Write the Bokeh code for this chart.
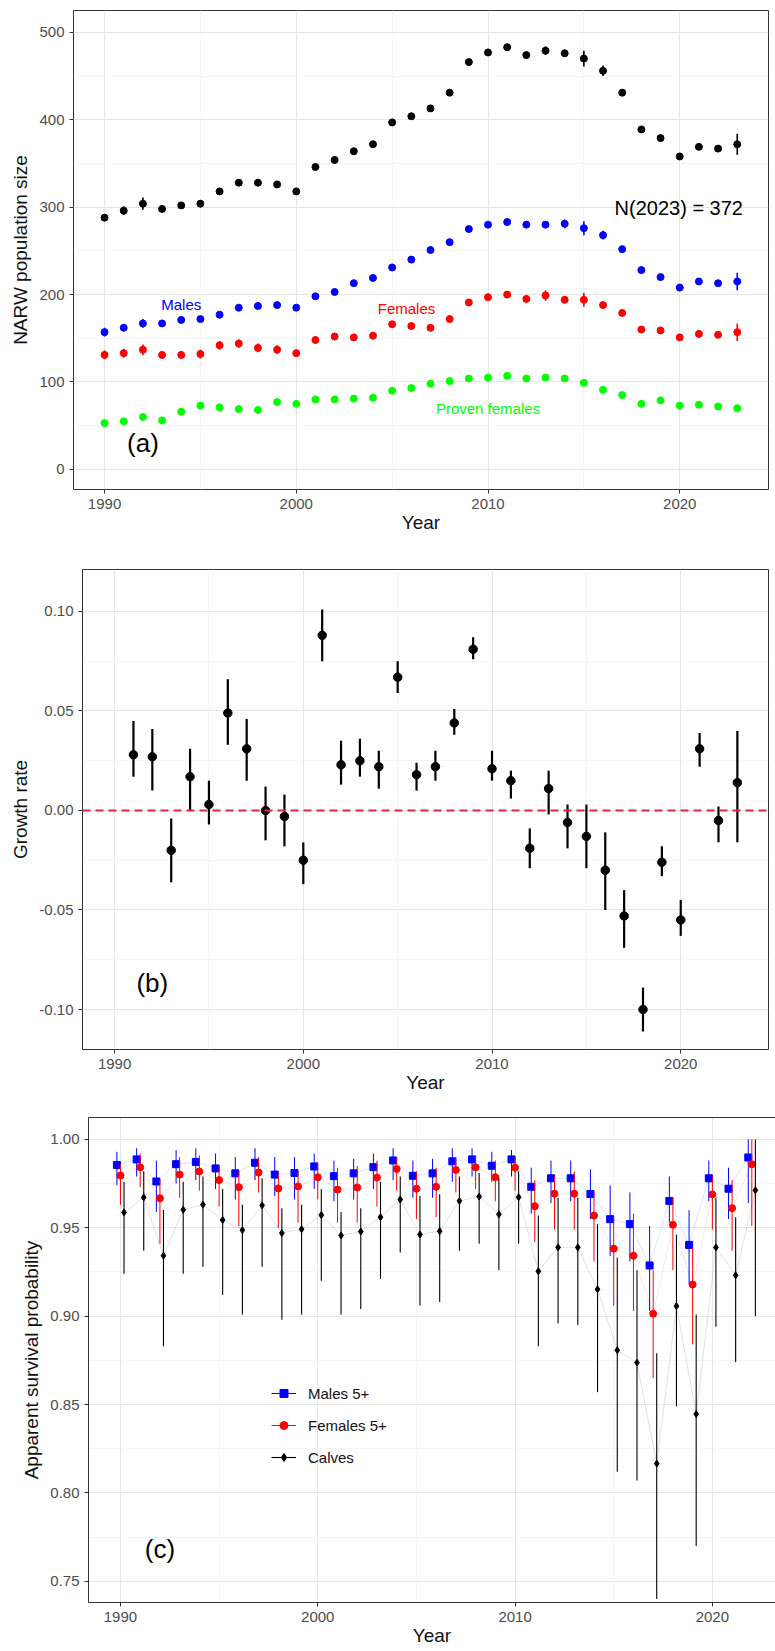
from bokeh.plotting import figure
from bokeh.models import (FixedTicker, PrintfTickFormatter, Range1d, LinearAxis,
                          Legend, LegendItem, Label, Span)
from bokeh.embed import file_html
from bokeh.resources import INLINE

FONT = "Liberation Sans"

# ---------------- Panel (a) data ----------------
years_a = list(range(1990, 2024))
total = [288, 296, 304, 298, 302, 304, 318, 328, 328, 326, 318, 346, 354, 364, 372, 397, 404,
         413, 431, 466, 477, 483, 474, 479, 476, 470, 456, 431, 389, 379, 358, 369, 367, 372]
total_hw = [3, 5, 7, 4, 4, 4, 3, 3, 3, 3, 3, 3, 3, 3, 3, 3, 3, 3, 3, 3, 3, 3, 3, 5, 4, 9, 6,
            3, 3, 3, 3, 3, 3, 12]
males = [157, 162, 167, 167, 171, 172, 177, 185, 187, 188, 185, 198, 203, 213, 219, 231, 240,
         251, 260, 275, 280, 283, 280, 280, 281, 276, 268, 252, 228, 220, 208, 215, 213, 215]
males_hw = [5, 3, 5, 3, 3, 3, 3, 3, 3, 3, 3, 3, 3, 3, 3, 3, 3, 3, 3, 3, 3, 3, 3, 3, 5, 8, 5,
            3, 3, 3, 3, 3, 3, 10]
females = [131, 133, 137, 131, 131, 132, 142, 144, 139, 137, 133, 148, 152, 151, 153, 166, 164,
           162, 172, 191, 197, 200, 195, 199, 194, 194, 188, 179, 160, 159, 151, 155, 154, 157]
females_hw = [5, 5, 6, 4, 4, 5, 5, 5, 5, 5, 4, 4, 4, 4, 4, 3, 3, 3, 3, 3, 4, 4, 4, 6, 4, 8, 4,
              3, 3, 3, 3, 3, 3, 10]
proven = [53, 55, 60, 56, 66, 73, 71, 69, 68, 77, 75, 80, 80, 81, 82, 90, 93, 98, 101, 104,
          105, 107, 104, 105, 104, 99, 91, 85, 75, 79, 73, 74, 72, 70]

# ---------------- Panel (b) data ----------------
years_b = list(range(1991, 2024))
growth = [0.028, 0.027, -0.020, 0.017, 0.003, 0.049, 0.031, 0.000, -0.003, -0.025, 0.088,
          0.023, 0.025, 0.022, 0.067, 0.018, 0.022, 0.044, 0.081, 0.021, 0.015, -0.019, 0.011,
          -0.006, -0.013, -0.030, -0.053, -0.100, -0.026, -0.055, 0.031, -0.005, 0.014]
growth_lo = [0.017, 0.010, -0.036, 0.000, -0.007, 0.033, 0.015, -0.015, -0.018, -0.037, 0.075,
             0.013, 0.017, 0.011, 0.059, 0.010, 0.015, 0.038, 0.076, 0.015, 0.006, -0.029,
             -0.002, -0.019, -0.029, -0.050, -0.069, -0.111, -0.033, -0.063, 0.022, -0.016,
             -0.016]
growth_hi = [0.045, 0.041, -0.004, 0.031, 0.015, 0.066, 0.046, 0.012, 0.008, -0.016, 0.101,
             0.035, 0.036, 0.030, 0.075, 0.024, 0.030, 0.051, 0.087, 0.030, 0.020, -0.009,
             0.020, 0.003, 0.003, -0.011, -0.040, -0.089, -0.018, -0.045, 0.039, 0.002, 0.040]

# ---------------- Panel (c) data ----------------
years_c = list(range(1990, 2023))
males_s = [0.9855, 0.9887, 0.9762, 0.9860, 0.9872, 0.9836, 0.9808, 0.9868, 0.9801, 0.9810,
           0.9847, 0.9792, 0.9808, 0.9843, 0.9881, 0.9794, 0.9808, 0.9876, 0.9887, 0.9851,
           0.9887, 0.9732, 0.9780, 0.9780, 0.9691, 0.9549, 0.9521, 0.9287, 0.9652, 0.9403,
           0.9780, 0.9721, 0.9898]
males_lo = [0.974, 0.979, 0.959, 0.975, 0.977, 0.972, 0.966, 0.977, 0.968, 0.966, 0.972, 0.965,
            0.966, 0.972, 0.977, 0.967, 0.967, 0.976, 0.979, 0.976, 0.979, 0.958, 0.964, 0.965,
            0.955, 0.934, 0.931, 0.903, 0.953, 0.918, 0.965, 0.955, 0.964]
males_hi = [0.993, 0.995, 0.988, 0.994, 0.995, 0.992, 0.990, 0.995, 0.990, 0.990, 0.992, 0.988,
            0.989, 0.992, 0.995, 0.988, 0.989, 0.995, 0.995, 0.993, 0.994, 0.984, 0.988, 0.988,
            0.983, 0.974, 0.970, 0.951, 0.979, 0.960, 0.988, 0.984, 1.000]
females_s = [0.9796, 0.9842, 0.9667, 0.9801, 0.9819, 0.9770, 0.9730, 0.9813, 0.9723, 0.9734,
             0.9786, 0.9716, 0.9728, 0.9784, 0.9833, 0.9721, 0.9732, 0.9827, 0.9842, 0.9786,
             0.9840, 0.9622, 0.9693, 0.9693, 0.9569, 0.9382, 0.9342, 0.9014, 0.9517, 0.9179,
             0.9689, 0.9611, 0.9859]
females_lo = [0.963, 0.973, 0.941, 0.967, 0.971, 0.962, 0.951, 0.970, 0.950, 0.953, 0.966,
              0.953, 0.953, 0.962, 0.971, 0.955, 0.956, 0.970, 0.972, 0.965, 0.971, 0.942,
              0.949, 0.949, 0.931, 0.906, 0.903, 0.865, 0.926, 0.884, 0.949, 0.937, 0.951]
females_hi = [0.986, 0.992, 0.977, 0.990, 0.991, 0.985, 0.982, 0.990, 0.981, 0.982, 0.987,
              0.984, 0.985, 0.988, 0.990, 0.982, 0.984, 0.990, 0.991, 0.988, 0.990, 0.977,
              0.979, 0.982, 0.971, 0.956, 0.958, 0.926, 0.967, 0.939, 0.979, 0.977, 1.000]
calves_s = [0.9587, 0.9672, 0.9342, 0.9602, 0.9631, 0.9544, 0.9487, 0.9627, 0.9470, 0.9492,
            0.9572, 0.9457, 0.9479, 0.9560, 0.9660, 0.9462, 0.9481, 0.9652, 0.9677, 0.9576,
            0.9673, 0.9254, 0.9389, 0.9389, 0.9152, 0.8807, 0.8737, 0.8166, 0.9057, 0.8446,
            0.9389, 0.9231, 0.9712]
calves_lo = [0.924, 0.937, 0.883, 0.924, 0.928, 0.912, 0.901, 0.928, 0.898, 0.901, 0.920,
             0.901, 0.904, 0.921, 0.936, 0.906, 0.908, 0.937, 0.941, 0.926, 0.941, 0.883,
             0.896, 0.895, 0.857, 0.812, 0.807, 0.740, 0.849, 0.770, 0.894, 0.874, 0.900]
calves_hi = [0.976, 0.982, 0.960, 0.976, 0.979, 0.972, 0.963, 0.978, 0.961, 0.963, 0.972,
             0.959, 0.961, 0.976, 0.979, 0.968, 0.969, 0.979, 0.981, 0.978, 0.982, 0.957,
             0.967, 0.967, 0.952, 0.933, 0.926, 0.879, 0.946, 0.901, 0.967, 0.956, 1.000]

x_ticks = [1990, 2000, 2010, 2020]
x_minor = [1985, 1995, 2005, 2015, 2025]

BLUE, RED, GREEN, BLACK = "#0000ff", "#ff0000", "#00ff00", "#000000"


def make_fig(height, bl, br, bt, bb, xr, yr, yticks, yminor, yfmt, ylabel, outline=True):
    p = figure(width=775, height=height, output_backend="svg", toolbar_location=None,
               x_range=Range1d(*xr), y_range=Range1d(*yr),
               min_border_left=bl, min_border_right=br, min_border_top=bt,
               min_border_bottom=bb)
    p.background_fill_color = "white"
    p.border_fill_color = "white"
    if outline:
        p.outline_line_color = "#333333"
        p.outline_line_width = 1
    else:
        p.outline_line_color = None
    p.xaxis.ticker = FixedTicker(ticks=x_ticks, minor_ticks=x_minor)
    p.yaxis.ticker = FixedTicker(ticks=yticks, minor_ticks=yminor)
    p.yaxis.formatter = PrintfTickFormatter(format=yfmt)
    p.xaxis.formatter = PrintfTickFormatter(format="%d")
    for ax in (p.xaxis[0], p.yaxis[0]):
        ax.axis_line_color = None if outline else "#333333"
        ax.major_tick_line_color = "#333333"
        ax.major_tick_out = 4
        ax.major_tick_in = 0
        ax.minor_tick_line_color = None
        ax.major_label_text_font = FONT
        ax.major_label_text_font_size = "15px"
        ax.major_label_text_color = "#4d4d4d"
        ax.axis_label_text_font = FONT
        ax.axis_label_text_font_size = "19px"
        ax.axis_label_text_font_style = "normal"
        ax.axis_label_text_color = "#111111"
    p.xaxis.axis_label = "Year"
    p.xaxis.axis_label_standoff = 0
    p.yaxis.axis_label = ylabel
    p.yaxis.axis_label_standoff = 5
    for g in (p.xgrid[0], p.ygrid[0]):
        g.grid_line_color = "#e6e6e6"
        g.grid_line_width = 1.1
        g.minor_grid_line_color = "#f2f2f2"
        g.minor_grid_line_width = 0.8
    return p


def add_label(p, x, y, text, color, size):
    p.add_layout(Label(x=x, y=y, text=text, text_color=color, text_font=FONT,
                       text_font_size=size, text_align="center", text_baseline="middle"))


# ---------------- Panel (a) ----------------
pa = make_fig(545, 73, 7, 10, 56, (1988.38, 2024.63), (-23, 525),
              [0, 100, 200, 300, 400, 500], [50, 150, 250, 350, 450], "%d",
              "NARW population size")
for vals, hw, col in ((total, total_hw, BLACK), (males, males_hw, BLUE),
                      (females, females_hw, RED)):
    lo = [v - h for v, h in zip(vals, hw)]
    hi = [v + h for v, h in zip(vals, hw)]
    pa.segment(x0=years_a, y0=lo, x1=years_a, y1=hi, line_color=col, line_width=1.6)
    pa.scatter(years_a, vals, size=7, color=col)
pa.scatter(years_a, proven, size=7, color=GREEN)
add_label(pa, 1994.0, 189, "Males", BLUE, "15px")
add_label(pa, 2005.75, 184, "Females", RED, "15px")
add_label(pa, 2010.0, 70, "Proven females", GREEN, "15px")
add_label(pa, 2019.95, 299, "N(2023) = 372", BLACK, "20px")
add_label(pa, 1992.0, 30, "(a)", BLACK, "26px")

# ---------------- Panel (b) ----------------
pb = make_fig(555, 82, 7, 24, 51, (1988.3, 2024.65), (-0.1201, 0.1211),
              [-0.10, -0.05, 0.0, 0.05, 0.10], [-0.075, -0.025, 0.025, 0.075], "%.2f",
              "Growth rate")
pb.segment(x0=years_b, y0=growth_lo, x1=years_b, y1=growth_hi, line_color=BLACK,
           line_width=2.2)
pb.scatter(years_b, growth, size=8.5, color=BLACK)
pb.add_layout(Span(location=0, dimension="width", line_color="#e4233c", line_width=2,
                   line_dash="8 5"))
add_label(pb, 1992.0, -0.0868, "(b)", BLACK, "26px")

# ---------------- Panel (c) ----------------
pc = make_fig(551, 88, 0, 17, 49, (1988.38, 2023.2), (0.738, 1.0124),
              [0.75, 0.80, 0.85, 0.90, 0.95, 1.00],
              [0.775, 0.825, 0.875, 0.925, 0.975], "%.2f",
              "Apparent survival probability", outline=False)
top_ax = LinearAxis(ticker=FixedTicker(ticks=[]), major_tick_out=0, major_tick_in=0,
                    minor_tick_out=0, minor_tick_in=0, major_label_standoff=0,
                    axis_line_color="#333333")
pc.add_layout(top_ax, "above")

x_m = [y - 0.18 for y in years_c]
x_f = list(years_c)
x_k = [y + 0.18 for y in years_c]

items = []
for xs, vals, lo, hi, col, marker, msize, lw, name in (
        (x_m, males_s, males_lo, males_hi, BLUE, "square", 7, 1.0, "Males 5+"),
        (x_f, females_s, females_lo, females_hi, RED, "circle", 7, 1.0, "Females 5+"),
        (x_k, calves_s, calves_lo, calves_hi, BLACK, "diamond", 7, 1.1, "Calves")):
    pc.line(xs, vals, line_color=col, line_alpha=0.12, line_width=1)
    seg = pc.segment(x0=xs, y0=lo, x1=xs, y1=hi, line_color=col, line_width=lw)
    sc = pc.scatter(xs, vals, marker=marker, size=msize, color=col)
    items.append(LegendItem(label=name, renderers=[seg, sc]))

legend = Legend(items=items, location=(173, 125), background_fill_alpha=0,
                border_line_alpha=0, label_text_font=FONT, label_text_font_size="15px",
                label_text_color="#111111", glyph_width=25, glyph_height=20, spacing=12,
                label_standoff=12, padding=10, margin=0)
pc.add_layout(legend)
add_label(pc, 1992.0, 0.768, "(c)", BLACK, "26px")

# three independent roots stacked on the page (keeps each panel's own frame offset)
open("out.html", "w").write(file_html([pa, pb, pc], INLINE))
